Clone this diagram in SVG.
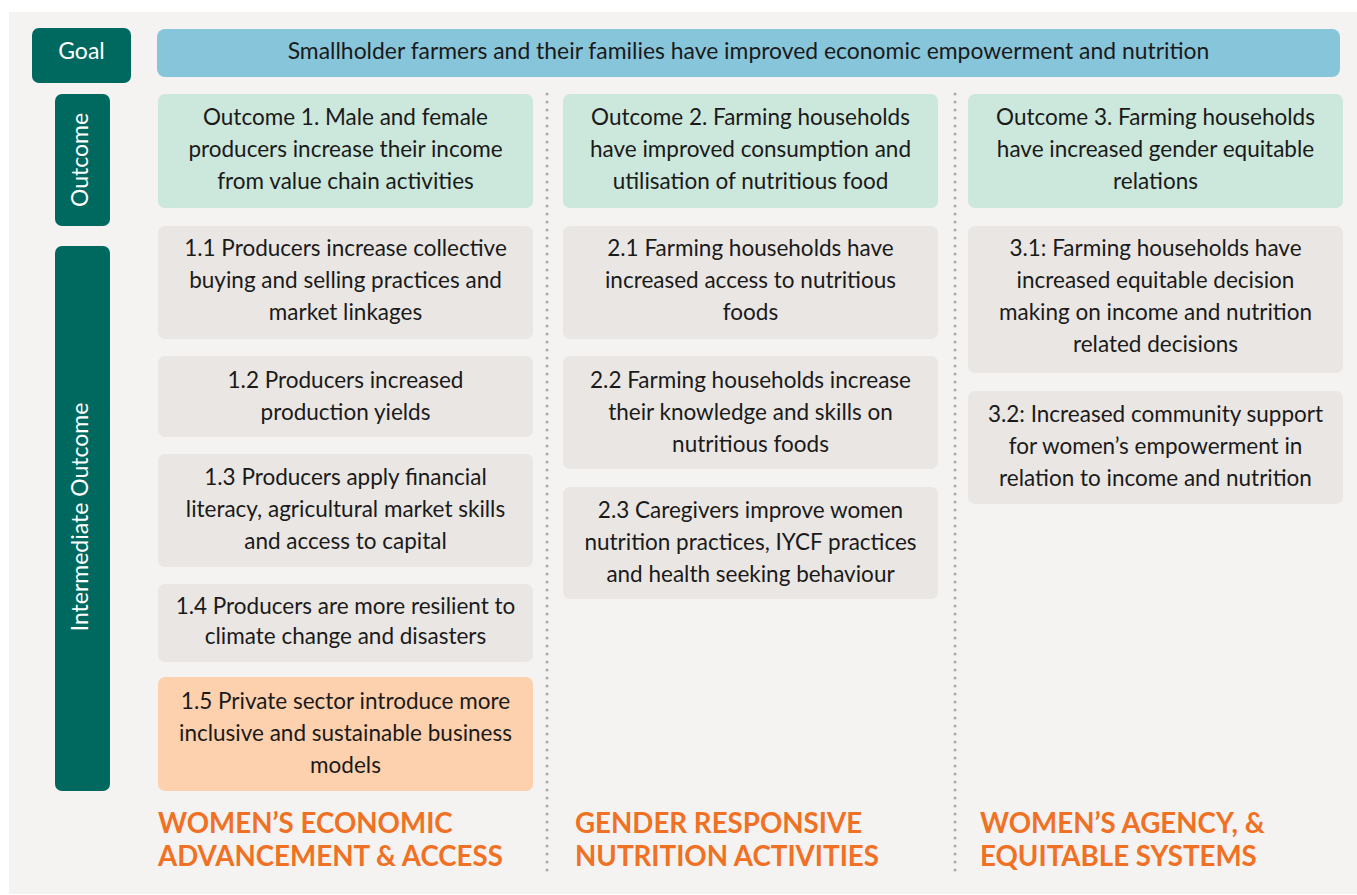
<svg xmlns="http://www.w3.org/2000/svg" width="1357" height="895" viewBox="0 0 1357 895">
<style>
.t{font-family:Lato,"Open Sans",sans-serif;font-size:22.5px;fill:#1a1a1a;text-anchor:middle}
.w{font-family:Lato,"Open Sans",sans-serif;font-size:23px;fill:#ffffff;text-anchor:middle}
.h{font-family:Lato,"Open Sans",sans-serif;font-size:27.7px;font-weight:bold;fill:#f07124}
.lab{fill:#00695f}
.oc{fill:#cce7db}
.io{fill:#e9e6e3}
.pr{fill:#fdd0ae}
.div{stroke:#a9a9a9;stroke-width:3;stroke-linecap:round;stroke-dasharray:0 8;fill:none}
</style>
<rect x="0" y="0" width="1357" height="895" fill="#ffffff"/>
<rect x="9" y="12" width="1348" height="882" fill="#f4f3f1"/>
<g id="connectors">
<line class="div" x1="547" y1="94" x2="547" y2="878"/>
<line class="div" x1="955" y1="94" x2="955" y2="878"/>
</g>
<g id="goal-label"><rect class="lab" x="32" y="28" width="99" height="55" rx="7"/><text class="w" x="81.5" y="59">Goal</text></g>
<g id="outcome-label"><rect class="lab" x="55" y="94" width="55" height="132" rx="7"/><text class="w" transform="translate(88,160) rotate(-90)">Outcome</text></g>
<g id="intermediate-label"><rect class="lab" x="55" y="246" width="55" height="545" rx="7"/><text class="w" transform="translate(88,517) rotate(-90)">Intermediate Outcome</text></g>
<g id="goal"><rect x="157" y="29" width="1183" height="48" rx="8" fill="#87c5da"/><text class="t" x="748.5" y="59" style="font-size:22.9px">Smallholder farmers and their families have improved economic empowerment and nutrition</text></g>
<g id="outcome1"><rect class="oc" x="158" y="94" width="375" height="114" rx="7"/><text class="t" x="345.5" y="125">Outcome 1. Male and female</text><text class="t" x="345.5" y="157">producers increase their income</text><text class="t" x="345.5" y="189">from value chain activities</text></g>
<g id="outcome2"><rect class="oc" x="563" y="94" width="375" height="114" rx="7"/><text class="t" x="750.5" y="125">Outcome 2. Farming households</text><text class="t" x="750.5" y="157">have improved consumption and</text><text class="t" x="750.5" y="189">utilisation of nutritious food</text></g>
<g id="outcome3"><rect class="oc" x="968" y="94" width="375" height="114" rx="7"/><text class="t" x="1155.5" y="125">Outcome 3. Farming households</text><text class="t" x="1155.5" y="157">have increased gender equitable</text><text class="t" x="1155.5" y="189">relations</text></g>
<g id="io1-1"><rect class="io" x="158" y="226" width="375" height="113" rx="7"/><text class="t" x="345.5" y="256">1.1 Producers increase collective</text><text class="t" x="345.5" y="288">buying and selling practices and</text><text class="t" x="345.5" y="320">market linkages</text></g>
<g id="io1-2"><rect class="io" x="158" y="356" width="375" height="81" rx="7"/><text class="t" x="345.5" y="388">1.2 Producers increased</text><text class="t" x="345.5" y="420">production yields</text></g>
<g id="io1-3"><rect class="io" x="158" y="454" width="375" height="113" rx="7"/><text class="t" x="345.5" y="485">1.3 Producers apply financial</text><text class="t" x="345.5" y="517">literacy, agricultural market skills</text><text class="t" x="345.5" y="549">and access to capital</text></g>
<g id="io1-4"><rect class="io" x="158" y="584" width="375" height="78" rx="7"/><text class="t" x="345.5" y="614">1.4 Producers are more resilient to</text><text class="t" x="345.5" y="644">climate change and disasters</text></g>
<g id="io1-5"><rect class="pr" x="158" y="677" width="375" height="114" rx="7"/><text class="t" x="345.5" y="709">1.5 Private sector introduce more</text><text class="t" x="345.5" y="741">inclusive and sustainable business</text><text class="t" x="345.5" y="773">models</text></g>
<g id="io2-1"><rect class="io" x="563" y="226" width="375" height="113" rx="7"/><text class="t" x="750.5" y="256">2.1 Farming households have</text><text class="t" x="750.5" y="288">increased access to nutritious</text><text class="t" x="750.5" y="320">foods</text></g>
<g id="io2-2"><rect class="io" x="563" y="356" width="375" height="113" rx="7"/><text class="t" x="750.5" y="388">2.2 Farming households increase</text><text class="t" x="750.5" y="420">their knowledge and skills on</text><text class="t" x="750.5" y="452">nutritious foods</text></g>
<g id="io2-3"><rect class="io" x="563" y="487" width="375" height="112" rx="7"/><text class="t" x="750.5" y="518">2.3 Caregivers improve women</text><text class="t" x="750.5" y="550">nutrition practices, IYCF practices</text><text class="t" x="750.5" y="582">and health seeking behaviour</text></g>
<g id="io3-1"><rect class="io" x="968" y="226" width="375" height="147" rx="7"/><text class="t" x="1155.5" y="256">3.1: Farming households have</text><text class="t" x="1155.5" y="288">increased equitable decision</text><text class="t" x="1155.5" y="320">making on income and nutrition</text><text class="t" x="1155.5" y="352">related decisions</text></g>
<g id="io3-2"><rect class="io" x="968" y="391" width="375" height="113" rx="7"/><text class="t" x="1155.5" y="422">3.2: Increased community support</text><text class="t" x="1155.5" y="454">for women’s empowerment in</text><text class="t" x="1155.5" y="486">relation to income and nutrition</text></g>
<g id="pillar1"><text class="h" x="158" y="833">WOMEN’S ECONOMIC</text><text class="h" x="158" y="866">ADVANCEMENT &amp; ACCESS</text></g>
<g id="pillar2"><text class="h" x="575" y="833">GENDER RESPONSIVE</text><text class="h" x="575" y="866">NUTRITION ACTIVITIES</text></g>
<g id="pillar3"><text class="h" x="980" y="833">WOMEN’S AGENCY, &amp;</text><text class="h" x="980" y="866">EQUITABLE SYSTEMS</text></g>
</svg>
